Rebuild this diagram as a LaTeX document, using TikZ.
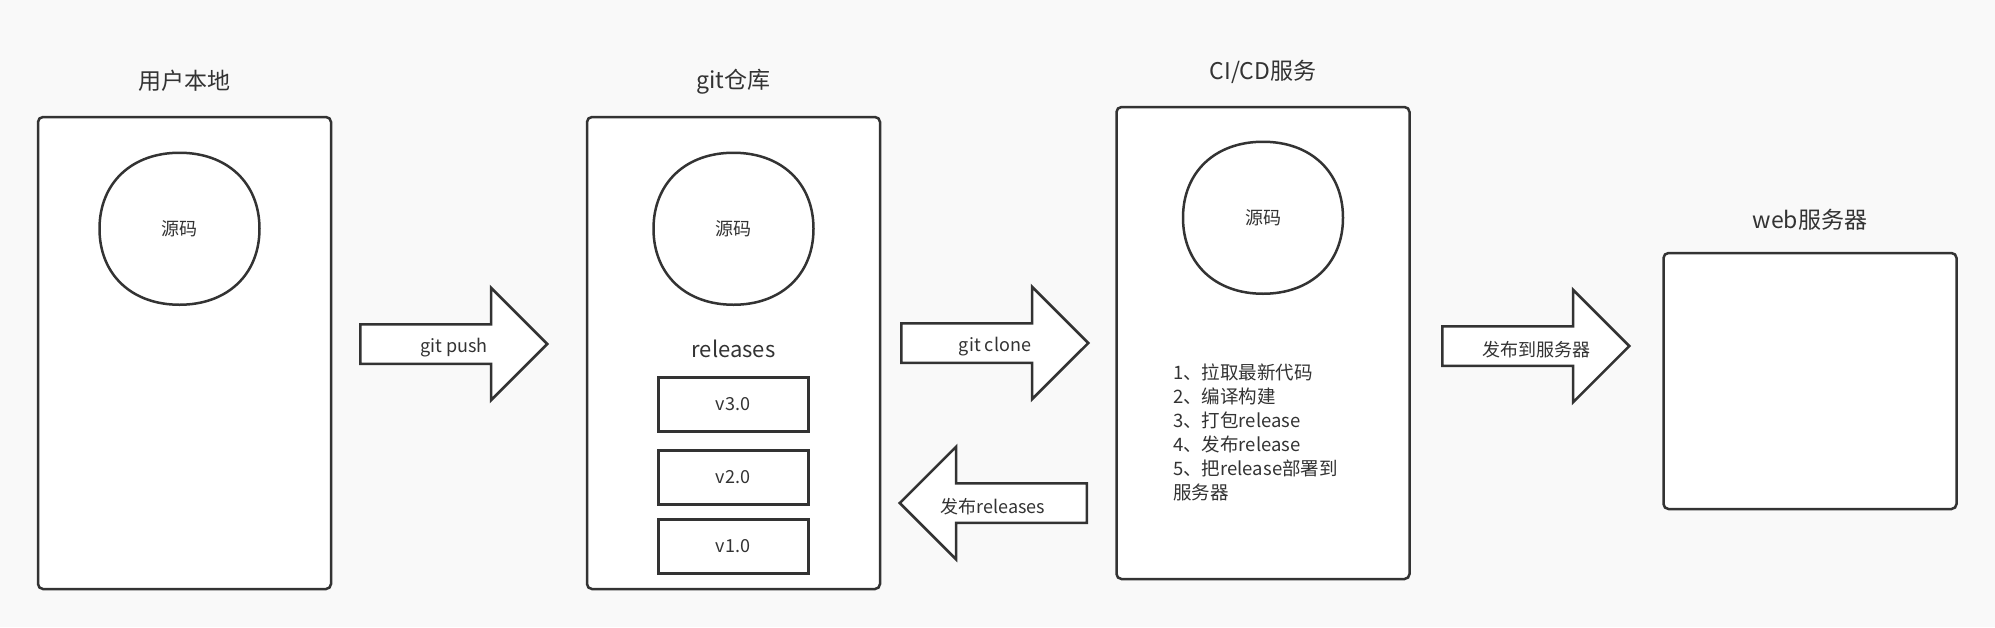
\documentclass[tikz,border=0pt]{standalone}
\usepackage{fontspec}
\usepackage{tikz}
\usetikzlibrary{shapes.arrows, positioning, calc}
\newfontfamily\cjk{Noto Sans CJK SC}
\definecolor{linecol}{RGB}{51,51,51}
\definecolor{bgcol}{RGB}{249,249,249}

\begin{document}
\begin{tikzpicture}[
			x=1pt, y=-1pt,
			text=linecol,
			panel/.style={
				draw=linecol,
				line width=2.5pt,
				fill=white,
				rounded corners=5pt,
				minimum width=293pt,
				inner sep=0pt
			},
			boxtitle/.style={
				font=\cjk\fontsize{23}{28}\selectfont,
				yshift=-2.5pt
			},
			source/.style={
				minimum width=160pt,
				minimum height=152pt,
				inner sep=0pt,
				outer sep=0pt,
				font=\cjk\fontsize{18}{22}\selectfont
			},
			outline/.style={
				draw=linecol,
				line width=2.5pt
			},
			version/.style={
				draw=linecol,
				line width=3pt,
				fill=white,
				minimum width=150pt,
				minimum height=54pt,
				font=\cjk\fontsize{18}{22}\selectfont
			},
			bigarrow/.style={
				single arrow,
				draw=linecol,
				line width=2.5pt,
				fill=white,
				minimum height=187pt,
				text height=37pt,
				text depth=0pt,
				inner sep=0pt,
				single arrow head extend=36.5pt,
				anchor=tail
			},
			arrowtext/.style={
				font=\cjk\fontsize{18}{22}\selectfont,
				yshift=-4pt
			}
			]
			\useasboundingbox (0,0) rectangle (1995,627);
			\fill[bgcol] (0,0) rectangle (1995,627);
			
			% Panels
			\node[panel, minimum height=472pt] (local) at (184.5,353) {};
			\node[panel, minimum height=472pt] (repo) at (733.5,353) {};
			\node[panel, minimum height=472pt] (cicd) at (1263,343) {};
			\node[panel, minimum height=256pt] (web) at (1810,381) {};
			
			% Titles
			\node[boxtitle, above=37pt of local.north, anchor=center] (tlocal) {用户本地};
			\node[boxtitle, above=37pt of repo.north, anchor=center] (trepo) {git仓库};
			\node[boxtitle, above=36pt of cicd.north, anchor=center] (tcicd) {CI/CD服务};
			\node[boxtitle, above=34pt of web.north, anchor=center] (tweb) {web服务器};
			
			% Source code
			\node[source, below=37pt of local.north, xshift=-5pt] (src1) {源码};
			\node[source, below=37pt of repo.north] (src2) {源码};
			\node[source, below=36pt of cicd.north] (src3) {源码};
			\foreach \s in {src1, src2, src3} {
				\draw[outline] (\s.north)
					.. controls ($(\s.north)!0.6!(\s.north east)$) and ($(\s.east)!0.6!(\s.north east)$) .. (\s.east)
					.. controls ($(\s.east)!0.6!(\s.south east)$) and ($(\s.south)!0.6!(\s.south east)$) .. (\s.south)
					.. controls ($(\s.south)!0.6!(\s.south west)$) and ($(\s.west)!0.6!(\s.south west)$) .. (\s.west)
					.. controls ($(\s.west)!0.6!(\s.north west)$) and ($(\s.north)!0.6!(\s.north west)$) .. (\s.north) -- cycle;
			}
			
			% Releases
			\node[font=\cjk\fontsize{22}{26}\selectfont] (rel) at ($(src2.south)+(0,44)$) {releases};
			\node[version] (v3) at (733,404) {v3.0};
			\node[version, below=16pt of v3] (v2) {v2.0};
			\node[version, below=12pt of v2] (v1) {v1.0};
			
			% Steps
			\node[anchor=north west, inner sep=0pt, align=left,
				font=\cjk\fontsize{18.5}{24}\selectfont] (steps) at (1173,364)
				{1、拉取最新代码\\2、编译构建\\3、打包release\\4、发布release\\5、把release部署到\\服务器};
			
			% Arrows
			\node[bigarrow] (push) at (359,344) {};
			\node[bigarrow] (clone) at (900,343) {};
			\node[bigarrow, shape border rotate=180] (publish) at (1088,503) {};
			\node[bigarrow] (deploy) at (1441,346) {};
			\node[arrowtext] at ($(push.tail)!0.5!(push.tip)$) {git push};
			\node[arrowtext] at ($(clone.tail)!0.5!(clone.tip)$) {git clone};
			\node[arrowtext] at ($(publish.tail)!0.5!(publish.tip)$) {发布releases};
			\node[arrowtext] at ($(deploy.tail)!0.5!(deploy.tip)$) {发布到服务器};
		\end{tikzpicture}
\end{document}
